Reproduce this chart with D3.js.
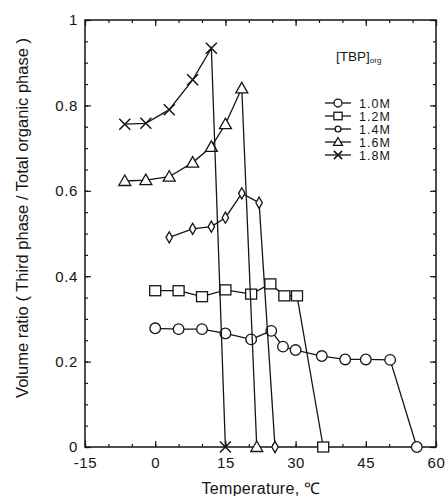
<!DOCTYPE html>
<html><head><meta charset="utf-8">
<script src="https://cdn.jsdelivr.net/npm/d3@7"></script>
<style>
html,body{margin:0;padding:0;background:#fff;}
svg{display:block;font-family:"Liberation Sans",Arial,sans-serif;}
</style></head>
<body><svg id="c" width="445" height="496"></svg>
<script>
const seriesNames = ["1.0M","1.2M","1.4M","1.6M","1.8M"];
const temps10 = [0,5,10,15,20.5,24.8,27.3,30,35.6,40.6,45,50.2,55.9];
const vals10  = [0.278,0.276,0.276,0.266,0.252,0.272,0.235,0.227,0.213,0.205,0.205,0.204,0];
const temps12 = [0,5,10,15,20.5,24.6,27.6,30.3,35.9];
const vals12  = [0.366,0.366,0.352,0.368,0.358,0.382,0.354,0.354,0];
const temps14 = [3,8,12,15,18.5,22.2,25.6];
const vals14  = [0.491,0.511,0.516,0.537,0.594,0.572,0];
const temps16 = [-6.5,-2,3,8,12,15,18.5,21.7];
const vals16  = [0.623,0.625,0.633,0.666,0.703,0.756,0.84,0];
const temps18 = [-6.5,-2,3,8,12,15];
const vals18  = [0.756,0.758,0.79,0.86,0.934,0];
const xTicks = [-15,0,15,30,45,60];
const yTicks = [0,0.2,0.4,0.6,0.8,1];
const yTickLabels = ["0","0.2","0.4","0.6","0.8","1"];

const svg = d3.select("#c");
const L=85, R=436, T=20, B=447;
const x = d3.scaleLinear().domain([-15,60]).range([L,R]);
const y = d3.scaleLinear().domain([0,1]).range([B,T]);
const ink="#151515";

svg.append("rect").attr("x",L).attr("y",T).attr("width",R-L).attr("height",B-T)
  .attr("fill","none").attr("stroke",ink).attr("stroke-width",1.5);

const xMinor = d3.range(-15,60.01,5);
const yMinor = d3.range(0,1.001,0.05);
function axisGroup(axis, tr){
  const g = svg.append("g").attr("transform",tr).call(axis);
  g.select(".domain").remove();
  g.selectAll("line").attr("stroke",ink).attr("stroke-width",1.2);
  g.selectAll("text").attr("fill",ink).attr("font-size",15).attr("font-family","\"Liberation Sans\",Arial,sans-serif");
  return g;
}
axisGroup(d3.axisBottom(x).tickValues(xMinor).tickSize(-3).tickFormat(""),`translate(0,${B})`);
axisGroup(d3.axisTop(x).tickValues(xMinor).tickSize(-3).tickFormat(""),`translate(0,${T})`);
axisGroup(d3.axisLeft(y).tickValues(yMinor).tickSize(-3).tickFormat(""),`translate(${L},0)`);
axisGroup(d3.axisRight(y).tickValues(yMinor).tickSize(-3).tickFormat(""),`translate(${R},0)`);
const gx = axisGroup(d3.axisBottom(x).tickValues(xTicks).tickSize(-6).tickPadding(10).tickFormat(d=>d),`translate(0,${B})`);
gx.selectAll("text").attr("letter-spacing",0.6);
axisGroup(d3.axisTop(x).tickValues(xTicks).tickSize(-6).tickFormat(""),`translate(0,${T})`);
const gy = axisGroup(d3.axisLeft(y).tickValues(yTicks).tickSize(-6).tickPadding(7).tickFormat((d,i)=>yTickLabels[i]),`translate(${L},0)`);
gy.selectAll("text").attr("letter-spacing",0.6);
axisGroup(d3.axisRight(y).tickValues(yTicks).tickSize(-6).tickFormat(""),`translate(${R},0)`);

svg.append("text").attr("x",261).attr("y",494).attr("text-anchor","middle")
  .attr("font-size",16).attr("letter-spacing",0.3).attr("fill",ink).text("Temperature, \u2103");
svg.append("text").attr("transform","translate(28,218) rotate(-90)").attr("text-anchor","middle")
  .attr("font-size",16.5).attr("fill",ink).text("Volume ratio ( Third phase / Total organic phase )");

const series = [
  {name:seriesNames[0], t:temps10, v:vals10, sym:"circle"},
  {name:seriesNames[1], t:temps12, v:vals12, sym:"square"},
  {name:seriesNames[2], t:temps14, v:vals14, sym:"smallcircle"},
  {name:seriesNames[3], t:temps16, v:vals16, sym:"triangle"},
  {name:seriesNames[4], t:temps18, v:vals18, sym:"cross"}
];
function drawMarker(g, sym, cx, cy, k){
  const s = g.append("g").attr("transform",`translate(${cx},${cy}) scale(${k})`);
  const sw = 1.3/k;
  if(sym==="circle") s.append("circle").attr("r",5.3).attr("fill","#fff").attr("stroke",ink).attr("stroke-width",sw);
  else if(sym==="smallcircle") s.append("path").attr("d",d3.symbol(d3.symbolDiamond,36)()).attr("fill","#fff").attr("stroke",ink).attr("stroke-width",sw);
  else if(sym==="square") s.append("rect").attr("x",-5.5).attr("y",-5).attr("width",11).attr("height",10).attr("fill","#fff").attr("stroke",ink).attr("stroke-width",sw);
  else if(sym==="triangle") s.append("path").attr("d","M0,-6L6,4.5L-6,4.5Z").attr("fill","#fff").attr("stroke",ink).attr("stroke-width",sw);
  else if(sym==="cross") s.append("path").attr("d","M-5.5,-5.5L5.5,5.5M-5.5,5.5L5.5,-5.5").attr("fill","none").attr("stroke",ink).attr("stroke-width",1.5/k);
}
const line = d3.line().x(d=>x(d[0])).y(d=>y(d[1]));
series.forEach(s=>{
  const pts = s.t.map((t,i)=>[t,s.v[i]]);
  svg.append("path").attr("d",line(pts)).attr("fill","none").attr("stroke",ink).attr("stroke-width",1.3);
  const g = svg.append("g");
  pts.forEach(p=>drawMarker(g,s.sym,x(p[0]),y(p[1]),1));
});

// legend
const lt = svg.append("text").attr("x",336).attr("y",61).attr("font-size",13.5).attr("fill",ink);
lt.append("tspan").text("[TBP]");
lt.append("tspan").attr("font-size",8).attr("dy",2).text("org");
const ly = [103,116,129,142,155];
series.forEach((s,i)=>{
  svg.append("line").attr("x1",325).attr("x2",351).attr("y1",ly[i]).attr("y2",ly[i]).attr("stroke",ink).attr("stroke-width",1.3);
  const g = svg.append("g");
  drawMarker(g, s.sym==="smallcircle"?"circle":s.sym, 338, ly[i], s.sym==="smallcircle"?0.55:0.75);
  svg.append("text").attr("x",359).attr("y",ly[i]+4.5).attr("font-size",12.5).attr("letter-spacing",1).attr("fill",ink).text(s.name);
});
</script></body></html>
